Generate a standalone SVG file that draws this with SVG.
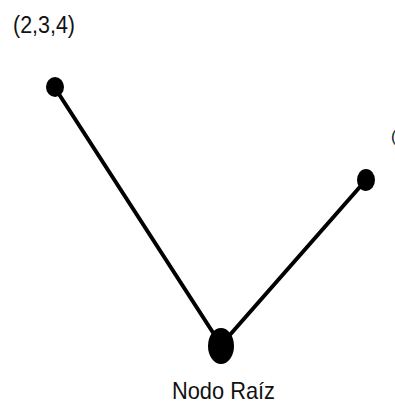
<svg xmlns="http://www.w3.org/2000/svg" width="395" height="405" viewBox="0 0 395 405">
<style>
.lbl{font-family:"Liberation Sans",Arial,sans-serif;fill:#111}
.edge{stroke:#000;stroke-width:4;stroke-linecap:round;fill:none}
.node{fill:#000}
</style>
<rect width="395" height="405" fill="#fff"/>
<g id="connectors">
<line class="edge" x1="55" y1="88" x2="221" y2="345"/>
<line class="edge" x1="366" y1="180" x2="221" y2="345"/>
</g>
<g id="node-left">
<ellipse class="node" cx="55" cy="87" rx="9" ry="10"/>
<text class="lbl" x="13" y="33" font-size="23" textLength="62" lengthAdjust="spacingAndGlyphs">(2,3,4)</text>
</g>
<g id="node-right">
<ellipse class="node" cx="366" cy="180" rx="9" ry="11"/>
<text class="lbl" x="391" y="142" font-size="16">(</text>
</g>
<g id="node-root">
<ellipse class="node" cx="221" cy="346" rx="13" ry="18"/>
<text class="lbl" x="172" y="399" font-size="24" textLength="103" lengthAdjust="spacingAndGlyphs">Nodo Raíz</text>
</g>
</svg>
